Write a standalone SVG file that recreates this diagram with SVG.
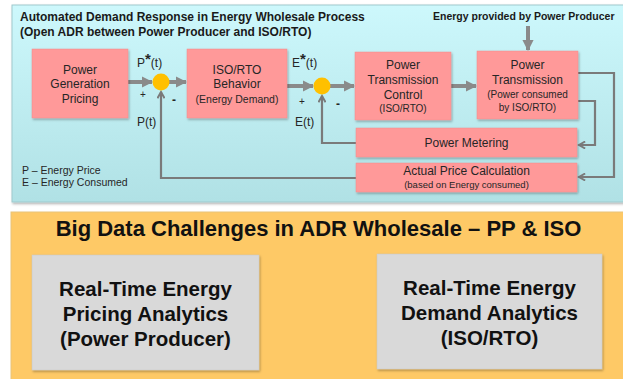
<svg xmlns="http://www.w3.org/2000/svg" width="623" height="379" viewBox="0 0 623 379">
  <defs>
    <linearGradient id="panelFill" x1="0" y1="0" x2="0" y2="1">
      <stop offset="0" stop-color="#cdf8fc"/>
      <stop offset="1" stop-color="#b0e1e5"/>
    </linearGradient>
    <filter id="shadow" x="-10%" y="-10%" width="120%" height="130%">
      <feDropShadow dx="1" dy="1.5" stdDeviation="1" flood-color="#000" flood-opacity="0.3"/>
    </filter>
    <marker id="headThick" viewBox="0 0 10 10" refX="9" refY="5" markerWidth="2.8" markerHeight="2.8" orient="auto">
      <path d="M0,0 L10,5 L0,10 Z" fill="#8a8a8a"/>
    </marker>
    <marker id="headThin" viewBox="0 0 10 10" refX="8" refY="5" markerWidth="4" markerHeight="4" orient="auto">
      <path d="M1,1 L8,5 L1,9" fill="none" stroke="#7a7a7a" stroke-width="2.2"/>
    </marker>
  </defs>
  <style>
    .panel { stroke: #9fc9cd; stroke-width: 1; }
    .box { fill: #ff9999; stroke: #f28c8c; stroke-width: 0.5; filter: url(#shadow); }
    .gbox { fill: #d9d9d9; stroke: #c8c8c8; stroke-width: 0.5; filter: url(#shadow); }
    .sum { fill: #ffc000; }
    text { font-family: "Liberation Sans", Arial, sans-serif; fill: #262626; }
    .t { font-size: 12px; text-anchor: middle; }
    .s { font-size: 10px; text-anchor: middle; }
    .lbl { font-size: 12px; }
    .hdr { font-size: 12px; font-weight: bold; fill: #1a1a1a; }
    .big { font-size: 22px; font-weight: bold; fill: #111; text-anchor: middle; }
    .gt { font-size: 20.5px; font-weight: bold; fill: #111; text-anchor: middle; }
    .main { fill: none; stroke: #8a8a8a; stroke-width: 4; marker-end: url(#headThick); }
    .fb { fill: none; stroke: #7a7a7a; stroke-width: 2.2; marker-end: url(#headThin); }
  </style>

  <!-- upper panel: the control loop -->
  <rect class="panel" x="12" y="5" width="620" height="197" fill="url(#panelFill)" filter="url(#shadow)"/>
  <text class="hdr" x="20" y="21">Automated Demand Response in Energy Wholesale Process</text>
  <text class="hdr" x="20" y="36">(Open ADR between Power Producer and ISO/RTO)</text>
  <text class="hdr" x="433" y="20" style="font-size:10.5px">Energy provided by Power Producer</text>

  <g id="legend">
    <text x="22" y="174" style="font-size:10.5px">P – Energy Price</text>
    <text x="22" y="186" style="font-size:10.5px">E – Energy Consumed</text>
  </g>

  <!-- connectors -->
  <g id="connectors">
    <line class="main" x1="128" y1="82" x2="152" y2="82"/>
    <line class="main" x1="169" y1="82" x2="186" y2="82"/>
    <line class="main" x1="287" y1="86" x2="313" y2="86"/>
    <line class="main" x1="330" y1="86" x2="354" y2="86"/>
    <line class="main" x1="451" y1="86" x2="476" y2="86"/>
    <line class="main" x1="528" y1="26" x2="528" y2="50"/>
    <polyline class="fb" points="356,178 161,178 161,92"/>
    <polyline class="fb" points="356,143 322,143 322,96"/>
    <polyline class="fb" points="578,73 614,73 614,177 579,177"/>
    <polyline class="fb" points="578,101 595,101 595,145 579,145"/>
  </g>

  <g id="sum-price"><circle class="sum" cx="161" cy="82" r="8.5"/></g>
  <g id="sum-energy"><circle class="sum" cx="322" cy="86" r="8.5"/></g>

  <g id="signal-labels">
    <text class="lbl" x="137" y="67">P<tspan font-weight="bold" font-size="15" dy="-3">*</tspan><tspan dy="3">(t)</tspan></text>
    <text class="lbl" x="140" y="98" style="font-size:10px">+</text>
    <text class="lbl" x="172" y="104" style="font-size:12px;font-weight:bold">-</text>
    <text class="lbl" x="137" y="126">P(t)</text>
    <text class="lbl" x="292" y="67">E<tspan font-weight="bold" font-size="15" dy="-3">*</tspan><tspan dy="3">(t)</tspan></text>
    <text class="lbl" x="299" y="105" style="font-size:10px">+</text>
    <text class="lbl" x="336" y="108" style="font-size:12px;font-weight:bold">-</text>
    <text class="lbl" x="295" y="126">E(t)</text>
  </g>

  <g id="power-generation-pricing">
    <rect class="box" x="32" y="49" width="96" height="69"/>
    <text class="t" x="80" y="73.5">Power</text>
    <text class="t" x="80" y="88">Generation</text>
    <text class="t" x="80" y="103">Pricing</text>
  </g>

  <g id="iso-rto-behavior">
    <rect class="box" x="187" y="49" width="100" height="69"/>
    <text class="t" x="237" y="73.5">ISO/RTO</text>
    <text class="t" x="237" y="88">Behavior</text>
    <text class="s" x="237" y="103" style="font-size:10.5px">(Energy Demand)</text>
  </g>

  <g id="power-transmission-control">
    <rect class="box" x="355" y="52" width="96" height="68"/>
    <text class="t" x="403" y="69">Power</text>
    <text class="t" x="403" y="84">Transmission</text>
    <text class="t" x="403" y="99">Control</text>
    <text class="s" x="403" y="111.5">(ISO/RTO)</text>
  </g>

  <g id="power-transmission">
    <rect class="box" x="477" y="51" width="101" height="68"/>
    <text class="t" x="527.5" y="69">Power</text>
    <text class="t" x="527.5" y="84">Transmission</text>
    <text class="s" x="527.5" y="98">(Power consumed</text>
    <text class="s" x="527.5" y="111">by ISO/RTO)</text>
  </g>

  <g id="power-metering">
    <rect class="box" x="356" y="128" width="221" height="29"/>
    <text class="t" x="466.5" y="147">Power Metering</text>
  </g>

  <g id="actual-price-calculation">
    <rect class="box" x="356" y="163" width="221" height="29"/>
    <text class="t" x="466.5" y="175">Actual Price Calculation</text>
    <text class="s" x="466.5" y="188" style="font-size:9.5px">(based on Energy consumed)</text>
  </g>

  <!-- lower panel: analytics challenges -->
  <rect x="11" y="212" width="620" height="175" fill="#fec966" stroke="#e8c47a" stroke-width="1"/>
  <text class="big" x="318.5" y="236">Big Data Challenges in ADR Wholesale – PP &amp; ISO</text>

  <g id="pricing-analytics">
    <rect class="gbox" x="32" y="255" width="227" height="115"/>
    <text class="gt" x="145.5" y="296">Real-Time Energy</text>
    <text class="gt" x="145.5" y="321">Pricing Analytics</text>
    <text class="gt" x="145.5" y="346">(Power Producer)</text>
  </g>

  <g id="demand-analytics">
    <rect class="gbox" x="377" y="254" width="225" height="115"/>
    <text class="gt" x="489.5" y="295">Real-Time Energy</text>
    <text class="gt" x="489.5" y="320">Demand Analytics</text>
    <text class="gt" x="489.5" y="345">(ISO/RTO)</text>
  </g>
</svg>
